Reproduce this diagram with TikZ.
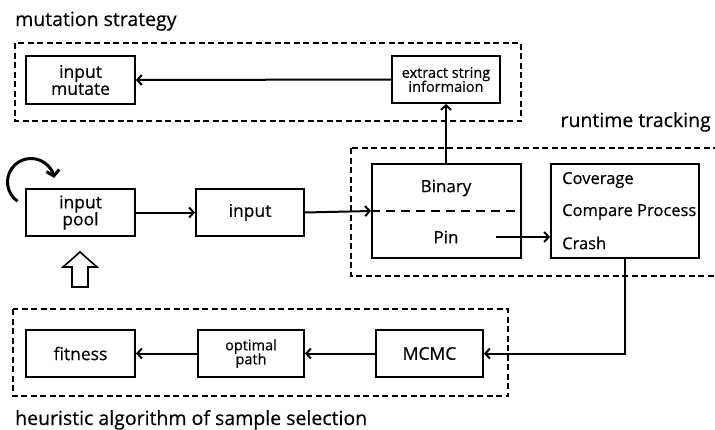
\documentclass[tikz,border=0pt]{standalone}
\usepackage{fontspec}
\setmainfont{Open Sans}[BoldFont={Open Sans}, BoldFeatures={FakeBold=0.4}]
\usetikzlibrary{arrows.meta}
\tikzset{
  box/.style={draw=black, line width=2pt, fill=white, inner sep=0pt, align=center, font=\fontsize{17.5}{20}\selectfont\bfseries},
  smallbox/.style={box, font=\fontsize{14.5}{17}\selectfont\bfseries},
  grp/.style={draw=black, line width=2pt, dash pattern=on 6pt off 3.5pt},
  conn/.style={line width=2pt, -{Straight Barb[length=4.5pt,width=10pt,line width=2pt]}},
  head/.style={inner sep=0pt, font=\fontsize{19.5}{22}\selectfont\bfseries},
  txt/.style={inner sep=0pt, font=\fontsize{17}{20}\selectfont\bfseries},
  ctxt/.style={inner sep=0pt, font=\fontsize{16.5}{19}\selectfont\bfseries},
}
\begin{document}
\begin{tikzpicture}[x=1pt,y=-1pt]
\useasboundingbox (0,0) rectangle (715,429);
\clip (0,0) rectangle (715,429);
% group boxes
\draw[grp] (15,43) rectangle (521,121);
\draw[grp] (351,148) rectangle (730,276);
\draw[grp] (13,309) rectangle (508,396);
% headings
\node[head, anchor=base west] (hmut) at (15,26) {mutation strategy};
\node[head, anchor=base east] (hrun) at (711,127) {runtime tracking};
\node[head, anchor=base west] (hheu) at (15,425) {heuristic algorithm of sample selection};
% top group
\node[box, minimum width=109pt, minimum height=48pt] (mutate) at (80.5,80) {input\\[-3pt]mutate};
\node[smallbox, minimum width=108pt, minimum height=47pt] (extract) at (446,79.5) {extract string\\[-3pt]informaion};
% middle
\node[box, minimum width=109pt, minimum height=47pt] (pool) at (80.5,212.5) {input\\[-3pt]pool};
\node[box, minimum width=108pt, minimum height=47pt] (input) at (250,212.5) {input};
\node[box, minimum width=149pt, minimum height=94pt] (bin) at (446.5,211) {};
\node[txt] (bintxt) at (446,188) {Binary};
\node[txt] (pintxt) at (446,237) {Pin};
\draw[line width=2pt, dash pattern=on 9pt off 6pt] (bin.west) -- (bin.east);
\coordinate (pinout) at (496,237);
\node[box, minimum width=148pt, minimum height=94pt] (cov) at (625,211) {};
\node[ctxt, anchor=west] (c1) at (562,180) {Coverage};
\node[ctxt, anchor=west] (c2) at (562,212) {Compare Process};
\node[ctxt, anchor=west] (c3) at (562,243) {Crash};
% bottom
\node[box, minimum width=109pt, minimum height=47pt] (fit) at (80.5,353.5) {fitness};
\node[smallbox, minimum width=106pt, minimum height=47pt] (opt) at (251,353.5) {optimal\\[-3pt]path};
\node[box, minimum width=107pt, minimum height=47pt] (mcmc) at (429.5,353.5) {MCMC};
% connectors
\draw[conn] (extract.west) -- (mutate.east);
\draw[conn] (pool.east) -- (input.east -| input.west);
\draw[conn] (input.east) -- (bin.west);
\draw[conn] (bin.north -| bintxt) -- (extract.south -| bintxt);
\draw[conn] (pinout) -- (pinout -| cov.west);
\draw[conn] (cov.south) -- (cov.south |- mcmc) -- (mcmc.east);
\draw[conn] (mcmc.west) -- (opt.east);
\draw[conn] (opt.west) -- (fit.east);
% self loop
\draw[line width=3pt, -{Straight Barb[length=5.5pt,width=13pt,line width=3pt]}] (31,182) ++(125:23.5) arc[start angle=125, end angle=350, radius=23.5];
% hollow up arrow
\draw[line width=1.6pt, fill=white] (80,252) -- (97,267) -- (88,267) -- (88,287) -- (72,287) -- (72,267) -- (63,267) -- cycle;
\end{tikzpicture}
\end{document}
